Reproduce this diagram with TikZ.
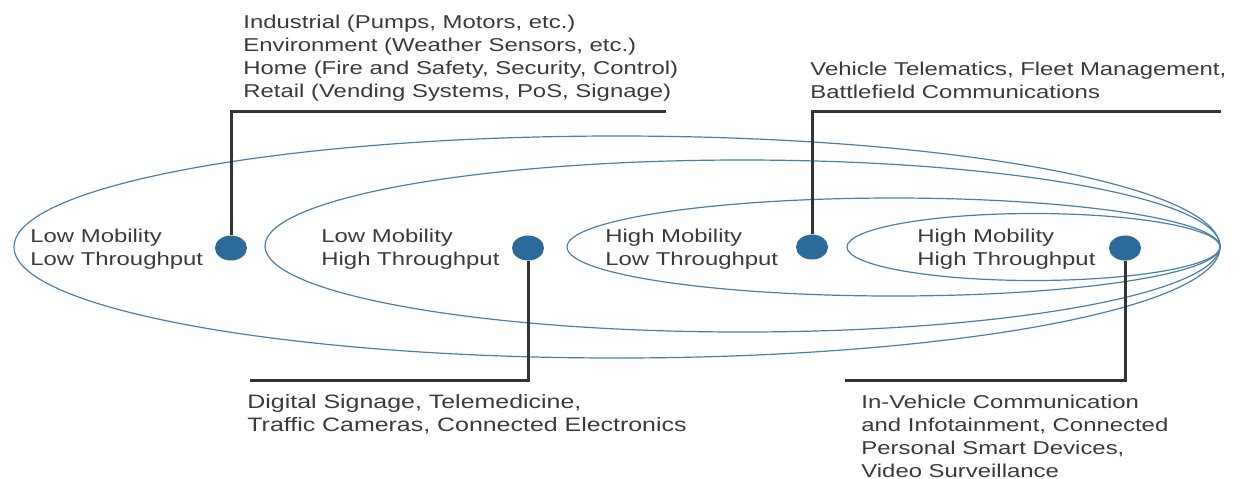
\documentclass[tikz,border=0pt]{standalone}
\usepackage{fontspec}
\setmainfont{Liberation Sans}[FakeStretch=1.285]
\usetikzlibrary{shapes.geometric}
\definecolor{ringblue}{HTML}{4A7FA8}
\definecolor{dotblue}{HTML}{2B6A99}
\definecolor{leadgrey}{HTML}{333333}
\definecolor{txtgrey}{HTML}{3A3A3A}
\tikzset{
  ring/.style={draw=ringblue, line width=0.6pt},
  dot/.style={ellipse, fill=dotblue, draw=none, minimum width=16pt, minimum height=12.5pt, inner sep=0pt},
  lead/.style={draw=leadgrey, line width=1.5pt},
  lbl/.style={anchor=base west, inner sep=0pt, align=left, text=txtgrey,
    font=\fontsize{9.3pt}{11.5pt}\selectfont},
}
\begin{document}
\begin{tikzpicture}[x=0.5pt,y=-0.5pt]
\useasboundingbox (0,0) rectangle (1245,478);
% ellipses
\draw[ring] (617,247) ellipse [x radius=603, y radius=111];
\draw[ring] (742.5,246) ellipse [x radius=477.5, y radius=86];
\draw[ring] (893.5,247) ellipse [x radius=326.5, y radius=49];
\draw[ring] (1033.5,247) ellipse [x radius=186.5, y radius=33.5];
% dots
\node[dot] (d1) at (231,248) {};
\node[dot] (d2) at (528,248) {};
\node[dot] (d3) at (812,247) {};
\node[dot] (d4) at (1125,248) {};
% leader end points
\coordinate (e1) at (666,111);
\coordinate (e3) at (1221,111);
\coordinate (e2) at (250,380);
\coordinate (e4) at (845,380);
\draw[lead] (d1.north) |- (e1);
\draw[lead] (d3.north) |- (e3);
\draw[lead] (d2.south) |- (e2);
\draw[lead] (d4.south) |- (e4);
% labels (anchored at the baseline of the last line)
\node[lbl] (t1) at (243,97) {Industrial (Pumps, Motors, etc.)\\Environment (Weather Sensors, etc.)\\Home (Fire and Safety, Security, Control)\\Retail (Vending Systems, PoS, Signage)};
\node[lbl] (t3) at (810,98) {Vehicle Telematics, Fleet Management,\\Battlefield Communications};
\node[lbl] (c1) at (30,265) {Low Mobility\\Low Throughput};
\node[lbl] (c2) at (321,265) {Low Mobility\\High Throughput};
\node[lbl] (c3) at (605,265) {High Mobility\\Low Throughput};
\node[lbl] (c4) at (917,265) {High Mobility\\High Throughput};
\node[lbl, font=\fontsize{9.7pt}{11.5pt}\selectfont] (t2) at (247,431) {Digital Signage, Telemedicine,\\Traffic Cameras, Connected Electronics};
\node[lbl] (t4) at (861,477) {In-Vehicle Communication\\and Infotainment, Connected\\Personal Smart Devices,\\Video Surveillance};
\end{tikzpicture}
\end{document}
